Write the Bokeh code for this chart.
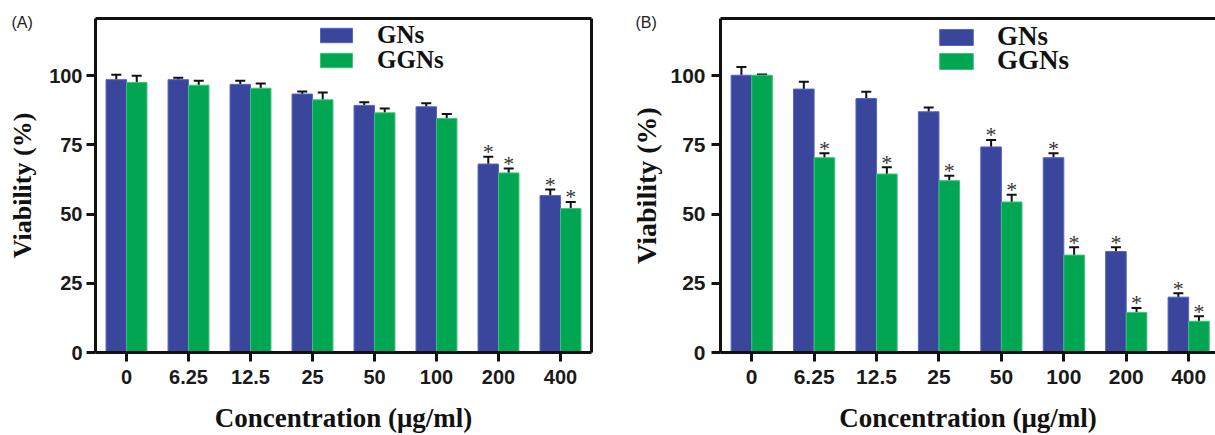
from bokeh.plotting import figure
from bokeh.models import (ColumnDataSource, Whisker, TeeHead, FixedTicker, LinearAxis,
                          Legend, LegendItem, Label, Range1d)
from bokeh.layouts import row
from bokeh.core.properties import value
from bokeh.embed import file_html
from bokeh.resources import INLINE

# ---------------- data ----------------
concentrations = ["0", "6.25", "12.5", "25", "50", "100", "200", "400"]
y_ticks = [0, 25, 50, 75, 100]
series_names = ["GNs", "GGNs"]

a_gns = [98.6, 98.6, 96.9, 93.4, 89.3, 88.8, 68.1, 56.7]
a_gns_sd = [1.8, 0.7, 1.3, 0.9, 1.1, 1.3, 2.6, 2.2]
a_ggns = [97.6, 96.6, 95.5, 91.3, 86.6, 84.6, 64.9, 52.0]
a_ggns_sd = [2.4, 1.6, 1.7, 2.7, 1.6, 1.6, 1.6, 2.4]
a_gns_sig = [0, 0, 0, 0, 0, 0, 1, 1]
a_ggns_sig = [0, 0, 0, 0, 0, 0, 1, 1]

b_gns = [100.2, 95.2, 91.8, 87.0, 74.3, 70.4, 36.5, 20.0]
b_gns_sd = [3.0, 2.6, 2.4, 1.5, 2.5, 1.6, 1.5, 1.4]
b_ggns = [100.2, 70.4, 64.5, 62.1, 54.4, 35.2, 14.5, 11.3]
b_ggns_sd = [0.3, 1.6, 2.4, 1.8, 2.6, 2.8, 1.6, 1.8]
b_gns_sig = [0, 0, 0, 0, 1, 1, 1, 1]
b_ggns_sig = [0, 1, 1, 1, 1, 1, 1, 1]

BLUE = "#3a469c"
BLUE_EDGE = "#5666c8"
GREEN = "#00a651"
GREEN_EDGE = "#3cc27a"
BAR_W = 0.33
HALF = BAR_W / 2


def make_panel(tag, gns, gns_sd, ggns, ggns_sd, gns_sig, ggns_sig, width, border_left,
               border_right, x_end, fs, right_border):
    idx = list(range(len(concentrations)))
    src = ColumnDataSource(dict(
        x_gns=[i - HALF for i in idx],
        x_ggns=[i + HALF for i in idx],
        gns=gns, ggns=ggns,
        gns_top=[m + s for m, s in zip(gns, gns_sd)],
        ggns_top=[m + s for m, s in zip(ggns, ggns_sd)],
        gns_star=["*" if f else "" for f in gns_sig],
        ggns_star=["*" if f else "" for f in ggns_sig],
    ))
    p = figure(width=width, height=435, x_range=Range1d(-0.5, x_end), y_range=Range1d(0, 120.7),
               output_backend="svg", toolbar_location=None,
               min_border_left=border_left, min_border_right=border_right,
               min_border_top=18, min_border_bottom=83)
    p.grid.visible = False
    p.outline_line_color = None
    p.background_fill_color = "white"
    p.border_fill_color = "white"

    r1 = p.vbar(x="x_gns", top="gns", width=BAR_W, source=src,
                fill_color=BLUE, line_color=BLUE_EDGE, line_width=1)
    r2 = p.vbar(x="x_ggns", top="ggns", width=BAR_W, source=src,
                fill_color=GREEN, line_color=GREEN_EDGE, line_width=1)

    for xf, lo, hi in [("x_gns", "gns", "gns_top"), ("x_ggns", "ggns", "ggns_top")]:
        w = Whisker(source=src, base=xf, lower=lo, upper=hi, dimension="height",
                    line_color="#111111", line_width=2, lower_head=None,
                    upper_head=TeeHead(size=10, line_width=2, line_color="#111111"))
        p.add_layout(w)

    for xf, yf, tf in [("x_gns", "gns_top", "gns_star"), ("x_ggns", "ggns_top", "ggns_star")]:
        p.text(x=xf, y=yf, text=tf, source=src, text_font=value("Liberation Serif"),
               text_font_size="22px", text_align="center", text_baseline="alphabetic",
               y_offset=-5, text_color="#333333")

    xa = p.xaxis[0]
    ya = p.yaxis[0]
    xa.ticker = FixedTicker(ticks=idx)
    xa.major_label_overrides = {i: c for i, c in enumerate(concentrations)}
    ya.ticker = FixedTicker(ticks=y_ticks)
    xa.axis_label = "Concentration (\u03bcg/ml)"
    ya.axis_label = "Viability (%)"
    for ax in (xa, ya):
        ax.axis_line_width = 3
        ax.axis_line_color = "#111111"
        ax.major_tick_line_width = 3
        ax.major_tick_line_color = "#111111"
        ax.major_tick_out = 9
        ax.major_tick_in = 0
        ax.minor_tick_line_color = None
        ax.major_label_text_font = "Liberation Sans"
        ax.major_label_text_font_style = "bold"
        ax.major_label_text_font_size = fs["tick"]
        ax.major_label_text_color = "#1a1a1a"
        ax.axis_label_text_font = "Liberation Serif"
        ax.axis_label_text_font_style = "bold"
        ax.axis_label_text_color = "#111111"
    xa.axis_label_text_font_size = fs["xlab"]
    ya.axis_label_text_font_size = fs["ylab"]
    xa.major_label_standoff = 8
    ya.major_label_standoff = fs["ystand"]
    xa.axis_label_standoff = 16
    ya.axis_label_standoff = fs["ylabstand"]

    borders = [("above", LinearAxis(ticker=FixedTicker(ticks=[])))]
    if right_border:
        borders.append(("right", LinearAxis(ticker=FixedTicker(ticks=[]))))
    for side, ax in borders:
        ax.axis_line_width = 3
        ax.axis_line_color = "#111111"
        ax.major_tick_line_color = None
        ax.minor_tick_line_color = None
        ax.major_tick_out = 0
        ax.major_tick_in = 0
        ax.major_label_text_font_size = "0px"
        ax.major_label_standoff = 0
        p.add_layout(ax, side)

    for name, rend, loc in [(series_names[0], r1, fs["legloc1"]), (series_names[1], r2, fs["legloc2"])]:
        leg = Legend(items=[LegendItem(label=name, renderers=[rend])],
                     location=loc, glyph_width=fs["gw"], glyph_height=fs["gh"],
                     label_text_font="Liberation Serif", label_text_font_style="bold",
                     label_text_font_size=fs["leg"], label_text_color="#111111",
                     label_standoff=fs["legstand"], padding=0, margin=0,
                     border_line_color=None, background_fill_alpha=0)
        p.add_layout(leg)

    p.add_layout(Label(x=fs["tagx"], y=22, x_units="canvas", y_units="canvas", text=tag,
                       text_font="Liberation Sans", text_font_size="16px",
                       text_baseline="middle", text_align="left", text_color="#222222"),
                 "above")
    return p


fsA = dict(tick="20px", xlab="27px", ylab="26px", ystand=4, ylabstand=9, leg="25px",
           legloc1=(221, 303), legloc2=(221, 278), gw=40, gh=18, legstand=21, tagx=11)
fsB = dict(tick="21px", xlab="27px", ylab="28px", ystand=6, ylabstand=5, leg="27px",
           legloc1=(215, 300), legloc2=(215, 276), gw=42, gh=20, legstand=20, tagx=30)

pA = make_panel("(A)", a_gns, a_gns_sd, a_ggns, a_ggns_sd, a_gns_sig, a_ggns_sig,
                605, 95, 14, 7.5, fsA, True)
pB = make_panel("(B)", b_gns, b_gns_sd, b_ggns, b_ggns_sd, b_gns_sig, b_ggns_sig,
                610, 115, 0, 7.43, fsB, False)

layout = row(pA, pB, spacing=0)
open("out.html", "w").write(file_html(layout, INLINE))
